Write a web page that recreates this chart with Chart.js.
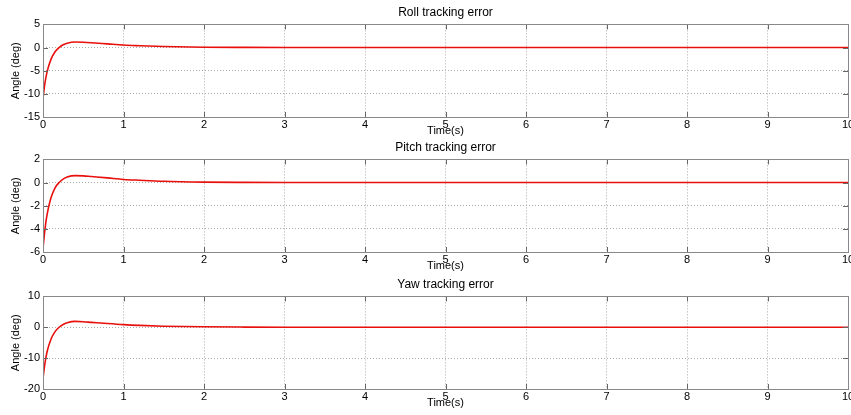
<!DOCTYPE html>
<html>
<head>
<meta charset="utf-8">
<script src="https://cdn.jsdelivr.net/npm/chart.js@4.4.0/dist/chart.umd.min.js"></script>
<style>
  body { margin: 0; background: #fff; }
  .wrap { position: absolute; left: 0; width: 851px; height: 137px; }
</style>
</head>
<body>
<div class="wrap" style="top:0px"><canvas id="roll"></canvas></div>
<div class="wrap" style="top:135px"><canvas id="pitch"></canvas></div>
<div class="wrap" style="top:272px"><canvas id="yaw"></canvas></div>
<script>
// time in seconds
var time  = [0, 0.025, 0.05, 0.1, 0.15, 0.2, 0.25, 0.3, 0.4, 0.5, 0.6, 0.8, 1, 1.2, 1.5, 2, 2.5, 3, 4, 5, 6, 7, 8, 9, 10];
var roll  = [-11, -7.6, -5.3, -2.5, -0.9, 0, 0.6, 0.95, 1.2, 1.15, 1.05, 0.8, 0.55, 0.4, 0.22, 0.08, 0.03, 0.01, 0, 0, 0, 0, 0, 0, 0];
var pitch = [-5.7, -4, -2.8, -1.3, -0.45, 0, 0.3, 0.48, 0.6, 0.58, 0.52, 0.4, 0.27, 0.2, 0.11, 0.04, 0.015, 0.005, 0, 0, 0, 0, 0, 0, 0];
var yaw   = [-16.5, -11.5, -8, -3.8, -1.4, 0, 0.9, 1.45, 1.9, 1.8, 1.6, 1.2, 0.85, 0.6, 0.35, 0.15, 0.06, 0.02, 0, 0, 0, 0, 0, 0, 0];
var xTicks = [0, 10, 1];

Chart.defaults.font.family = "'Liberation Sans', Arial, sans-serif";
Chart.defaults.font.size = 11;
Chart.defaults.color = "#000";

// matlab style box with inner tick marks
var boxPlugin = {
  id: "box",
  afterDraw: function(chart) {
    var a = chart.chartArea, c = chart.ctx;
    c.save();
    c.strokeStyle = "#666";
    c.lineWidth = 1;
    c.beginPath();
    chart.scales.x.ticks.forEach(function(t) {
      var px = Math.round(chart.scales.x.getPixelForValue(t.value)) + 0.5;
      c.moveTo(px, a.bottom); c.lineTo(px, a.bottom - 5);
      c.moveTo(px, a.top); c.lineTo(px, a.top + 5);
    });
    chart.scales.y.ticks.forEach(function(t) {
      var py = Math.round(chart.scales.y.getPixelForValue(t.value)) + 0.5;
      c.moveTo(a.left, py); c.lineTo(a.left + 5, py);
      c.moveTo(a.right, py); c.lineTo(a.right - 5, py);
    });
    c.stroke();
    c.strokeStyle = "#888";
    c.strokeRect(Math.round(a.left) + 0.5, Math.round(a.top) + 0.5,
      Math.round(a.right - a.left), Math.round(a.bottom - a.top));
    c.restore();
  }
};

function makeChart(id, title, vals, ymin, ymax, ystep) {
  return new Chart(document.getElementById(id), {
    type: "line",
    data: {
      datasets: [{
        data: time.map(function(t, i) { return {x: t, y: vals[i]}; }),
        borderColor: "#e8100c",
        borderWidth: 1.6,
        pointRadius: 0,
        cubicInterpolationMode: "monotone",
        fill: false
      }]
    },
    options: {
      responsive: true,
      maintainAspectRatio: false,
      animation: false,
      layout: {padding: {left: 0, right: 3, top: 0, bottom: 0}},
      plugins: {
        legend: {display: false},
        tooltip: {enabled: false},
        title: {
          display: true,
          text: title,
          fullSize: false,
          font: {size: 12, weight: "normal"},
          color: "#000",
          padding: {top: 5, bottom: 5}
        }
      },
      scales: {
        x: {
          type: "linear",
          min: xTicks[0], max: xTicks[1],
          ticks: {stepSize: xTicks[2], padding: 1, maxRotation: 0},
          grid: {color: "#aaa", drawTicks: false},
          border: {display: false, dash: [1, 2]},
          title: {display: true, text: "Time(s)", padding: {top: 0, bottom: -1}},
          afterFit: function(s) { s.height = 20; s.paddingLeft = 0; s.paddingRight = 0; }
        },
        y: {
          min: ymin, max: ymax,
          ticks: {stepSize: ystep, padding: 3},
          grid: {color: "#aaa", drawTicks: false},
          border: {display: false, dash: [1, 2]},
          title: {display: true, text: "Angle (deg)", padding: {top: 9, bottom: 0}},
          afterFit: function(s) { s.width = 43; }
        }
      }
    },
    plugins: [boxPlugin]
  });
}

makeChart("roll", "Roll tracking error", roll, -15, 5, 5);
makeChart("pitch", "Pitch tracking error", pitch, -6, 2, 2);
makeChart("yaw", "Yaw tracking error", yaw, -20, 10, 10);
</script>
</body>
</html>
